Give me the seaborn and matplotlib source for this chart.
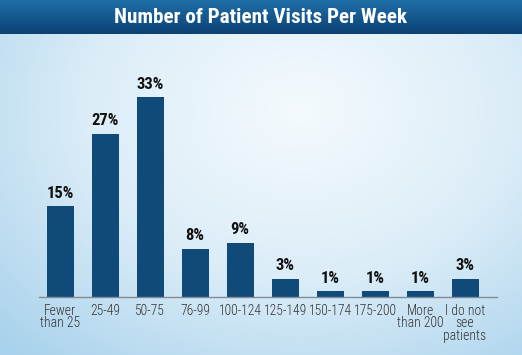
import numpy as np
import pandas as pd
import matplotlib
matplotlib.use("Agg")
import matplotlib.pyplot as plt
import seaborn as sns
from matplotlib.colors import LinearSegmentedColormap
from matplotlib import font_manager

categories = ["Fewer\nthan 25", "25-49", "50-75", "76-99", "100-124", "125-149",
              "150-174", "175-200", "More\nthan 200", "I do not\nsee\npatients"]
values = [15, 27, 33, 8, 9, 3, 1, 1, 1, 3]
labels = ["15%", "27%", "33%", "8%", "9%", "3%", "1%", "1%", "1%", "3%"]
title = "Number of Patient Visits Per Week"

df = pd.DataFrame({"cat": categories, "val": values})

sns.set_theme(style="white")
installed = {f.name for f in font_manager.fontManager.ttflist}
narrow = [f for f in ["Roboto Condensed", "Liberation Sans Narrow", "Liberation Sans"]
          if f in installed] + ["DejaVu Sans"]
is_condensed = narrow[0] in ("Roboto Condensed", "Liberation Sans Narrow")
plt.rcParams["font.family"] = narrow

fig = plt.figure(figsize=(5.22, 3.55), dpi=100)

# background gradient
bg = fig.add_axes([0, 0, 1, 1], zorder=0)
H, W = 355, 522
yy, xx = np.mgrid[0:H, 0:W]
d = np.sqrt(((xx - 300) / 420.0) ** 2 + ((yy - 110) / 330.0) ** 2)
d = np.clip(d, 0, 1)
cmap_bg = LinearSegmentedColormap.from_list("bg", ["#f4fafd", "#dcedf8", "#a9d2ec"])
bg.imshow(d, cmap=cmap_bg, aspect="auto", extent=[0, 1, 0, 1], origin="upper")
bg.set_xlim(0, 1)
bg.set_ylim(0, 1)
bg.axis("off")

# title bar
tb = fig.add_axes([0, 1 - 34 / 355, 1, 34 / 355], zorder=1)
grad = np.linspace(0, 1, 50).reshape(-1, 1)
cmap_tb = LinearSegmentedColormap.from_list("tb", ["#1f6ea8", "#0b4273"])
tb.imshow(grad, cmap=cmap_tb, aspect="auto", extent=[0, 1, 0, 1], origin="upper")
tb.set_xlim(0, 1)
tb.set_ylim(0, 1)
tb.axis("off")
tb.text(0.5, 0.48, title, color="white", fontsize=15.2 if is_condensed else 12.8,
        fontweight="bold", ha="center", va="center", family=narrow)

# main axes
ax = fig.add_axes([39 / 522, 58 / 355, 458 / 522, 242 / 355], zorder=2)
ax.patch.set_alpha(0)
sns.barplot(data=df, x="cat", y="val", ax=ax, color="#104a78", width=0.6,
            saturation=1, edgecolor="none")
ax.set_xlim(-0.47, 9.71)
ax.set_ylim(0, 40)
for i, (v, lab) in enumerate(zip(values, labels)):
    ax.text(i, v + 0.9, lab, ha="center", va="bottom",
            fontsize=12 if is_condensed else 10,
            fontweight="bold", color="#111111", family=narrow)
ax.set_xlabel("")
ax.set_ylabel("")
ax.set_yticks([])
for s in ["top", "right", "left"]:
    ax.spines[s].set_visible(False)
ax.spines["bottom"].set_color("#7f8c96")
ax.spines["bottom"].set_linewidth(1.0)
ax.tick_params(axis="x", length=0, pad=5,
               labelsize=9.8 if is_condensed else 8.4, labelcolor="#333333")
for t in ax.get_xticklabels():
    t.set_linespacing(0.85)
    t.set_multialignment("center")
    t.set_verticalalignment("top")
    t.set_fontweight("light")

fig.savefig("out.png", dpi=100)
